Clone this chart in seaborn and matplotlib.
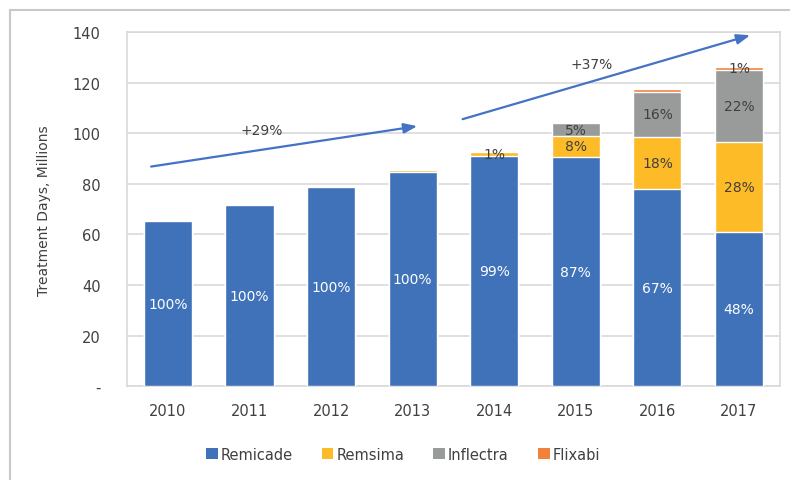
import numpy as np
import pandas as pd
import matplotlib
matplotlib.use("Agg")
import matplotlib.pyplot as plt
from matplotlib.lines import Line2D
from matplotlib.patches import Patch
import seaborn as sns

years = ["2010", "2011", "2012", "2013", "2014", "2015", "2016", "2017"]
remicade = [65.2, 71.6, 78.8, 84.8, 91.0, 90.6, 78.0, 61.1]
remsima = [0.0, 0.0, 0.0, 0.7, 1.6, 8.5, 20.5, 35.4]
inflectra = [0.0, 0.0, 0.0, 0.0, 0.5, 4.8, 17.9, 28.5]
flixabi = [0.0, 0.0, 0.0, 0.0, 0.0, 0.0, 1.1, 1.3]

series = ["Remicade", "Remsima", "Inflectra", "Flixabi"]
colors = ["#3f72b9", "#fdbb27", "#999b9b", "#f0823c"]

remicade_pct = ["100%", "100%", "100%", "100%", "99%", "87%", "67%", "48%"]
remsima_pct = ["", "", "", "", "1%", "8%", "18%", "28%"]
inflectra_pct = ["", "", "", "", "", "5%", "16%", "22%"]
flixabi_pct = ["", "", "", "", "", "", "", "1%"]

yticks = [0, 20, 40, 60, 80, 100, 120, 140]
ytick_labels = ["-", "20", "40", "60", "80", "100", "120", "140"]

# growth arrows (data coords) and their labels
arrow1 = ((-0.24, 86.7), (3.09, 103.0))
arrow2 = ((3.58, 105.3), (7.17, 139.1))
growth1 = "+29%"
growth2 = "+37%"

sns.set_style("white")
plt.rcParams["font.family"] = ["DejaVu Sans"]

df = pd.DataFrame({"year": years, "Remicade": remicade, "Remsima": remsima,
                   "Inflectra": inflectra, "Flixabi": flixabi})
cum = df[series].cumsum(axis=1)

fig = plt.figure(figsize=(7.9, 4.81), dpi=100)
ax = fig.add_axes([0.161, 0.195, 0.826, 0.736])

# stacked bars: draw cumulative totals from the top layer down
for name, col in zip(series[::-1], colors[::-1]):
    sns.barplot(x=df["year"], y=cum[name], color=col, width=0.59,
                saturation=1, ax=ax, zorder=3)

ax.set_ylim(0, 140)
ax.set_xlim(-0.5, 7.5)
ax.set_yticks(yticks)
ax.set_yticklabels(ytick_labels)
ax.yaxis.grid(True, color="#d9d9d9", linewidth=1.2, zorder=0)
ax.set_axisbelow(True)
for s in ax.spines.values():
    s.set_color("#d9d9d9")
    s.set_linewidth(1.2)
ax.tick_params(axis="both", length=0, labelsize=10.5, colors="#404040")
ax.tick_params(axis="y", pad=19)
ax.tick_params(axis="x", pad=12)
ax.set_xlabel("")
ax.set_ylabel("Treatment Days, Millions", fontsize=10, color="#404040", labelpad=16)

# segment labels
pct_lists = [remicade_pct, remsima_pct, inflectra_pct, flixabi_pct]
bottoms = np.zeros(len(years))
for name, pcts in zip(series, pct_lists):
    vals = df[name].values
    for i, p in enumerate(pcts):
        if p:
            c = "white" if name == "Remicade" else "#404040"
            ax.text(i, bottoms[i] + vals[i] / 2, p, ha="center", va="center",
                    fontsize=10, color=c, zorder=5)
    bottoms = bottoms + vals

for (start, end) in [arrow1, arrow2]:
    ax.annotate("", xy=end, xytext=start,
                arrowprops=dict(arrowstyle="-|>,head_length=0.8,head_width=0.3",
                                color="#4472c4", lw=1.6),
                zorder=6)
ax.text(1.15, 101.5, growth1, ha="center", va="center", fontsize=10, color="#404040")
ax.text(5.19, 127.3, growth2, ha="center", va="center", fontsize=10, color="#404040")

handles = [Patch(facecolor=c, edgecolor="none") for c in colors]
fig.legend(handles, series, loc="center", bbox_to_anchor=(0.51, 0.054), ncol=4,
           frameon=False, fontsize=10.5, handlelength=0.8, handleheight=0.8,
           handletextpad=0.2, columnspacing=2.0, labelcolor="#404040")

# outer frame fragments
fig.add_artist(Line2D([0.0127, 0.0127], [0, 0.977], transform=fig.transFigure,
                      color="#c8c8c8", lw=1.5))
fig.add_artist(Line2D([0.0127, 1.0], [0.977, 0.977], transform=fig.transFigure,
                      color="#c8c8c8", lw=1.5))

fig.savefig("out.png", dpi=100)
